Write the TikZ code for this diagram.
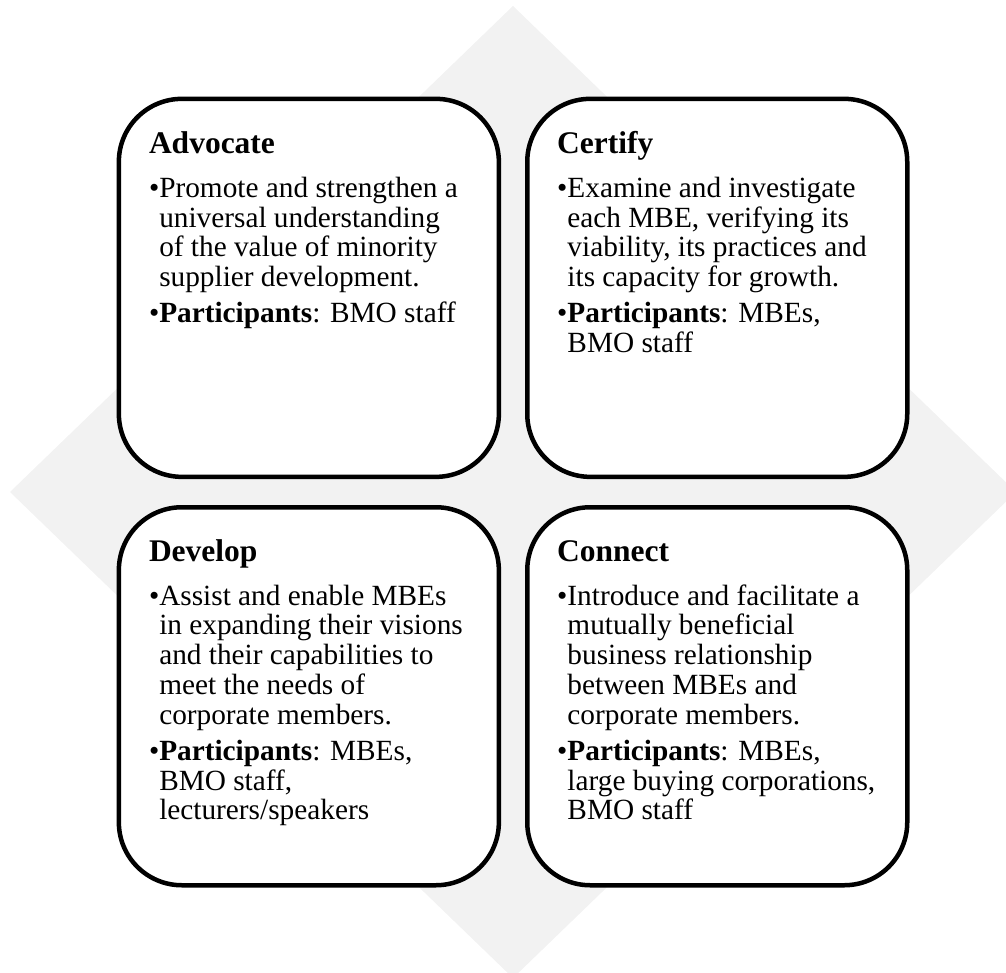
\documentclass[tikz,border=0pt]{standalone}
\usepackage{fontspec}
\setmainfont{Liberation Serif}
\definecolor{diamondgray}{HTML}{F2F2F2}
\tikzset{
  card/.style={draw=black, line width=4.5pt, fill=white, rounded corners=63pt,
    minimum width=380pt, minimum height=378pt, inner sep=0pt, outer sep=0pt},
  ttl/.style={anchor=base west, inner sep=0pt, font=\fontsize{31.5}{36}\selectfont\bfseries},
  bodytext/.style={anchor=base west, inner sep=0pt, font=\fontsize{29.3}{29.8}\selectfont}
}
\newcommand\cardtext[1]{\vtop{\hsize=420pt\parindent=0pt\parskip=6.2pt\rightskip=0pt plus 1fil\relax #1\par}}
\newcommand\bitem{\par\hangindent=10.26pt\hangafter=1\noindent•}
\newcommand\nl{\hfil\break}
\begin{document}
\begin{tikzpicture}[x=1pt,y=-1pt]
\useasboundingbox (0,0) rectangle (1006,973);
\clip (0,0) rectangle (1006,973);
\fill[diamondgray] (10,492) -- (513,6) -- (1016,492) -- (513,978) -- cycle;

\node[card] (adv) at (308.85,287.85) {};
\node[card] (cer) at (717.25,287.85) {};
\node[card] (dev) at (308.85,696.25) {};
\node[card] (con) at (717.25,696.25) {};

\node[ttl] (advt) at (148.8,153.3) {Advocate};
\node[bodytext] (advb) at (148.8,197.3) {\cardtext{%
\bitem Promote and strengthen a\nl universal understanding\nl of the value of minority\nl supplier development.
\bitem \textbf{Participants}: BMO staff}};

\node[ttl] (cert) at (557,153.3) {Certify};
\node[bodytext] (cerb) at (557,197.3) {\cardtext{%
\bitem Examine and investigate\nl each MBE, verifying its\nl viability, its practices and\nl its capacity for growth.
\bitem \textbf{Participants}: MBEs,\nl BMO staff}};

\node[ttl] (devt) at (148.8,561) {Develop};
\node[bodytext] (devb) at (148.8,605) {\cardtext{%
\bitem Assist and enable MBEs\nl in expanding their visions\nl and their capabilities to\nl meet the needs of\nl corporate members.
\bitem \textbf{Participants}: MBEs,\nl BMO staff,\nl lecturers/speakers}};

\node[ttl] (cont) at (557,561) {Connect};
\node[bodytext] (conb) at (557,605) {\cardtext{%
\bitem Introduce and facilitate a\nl mutually beneficial\nl business relationship\nl between MBEs and\nl corporate members.
\bitem \textbf{Participants}: MBEs,\nl large buying corporations,\nl BMO staff}};
\end{tikzpicture}
\end{document}
